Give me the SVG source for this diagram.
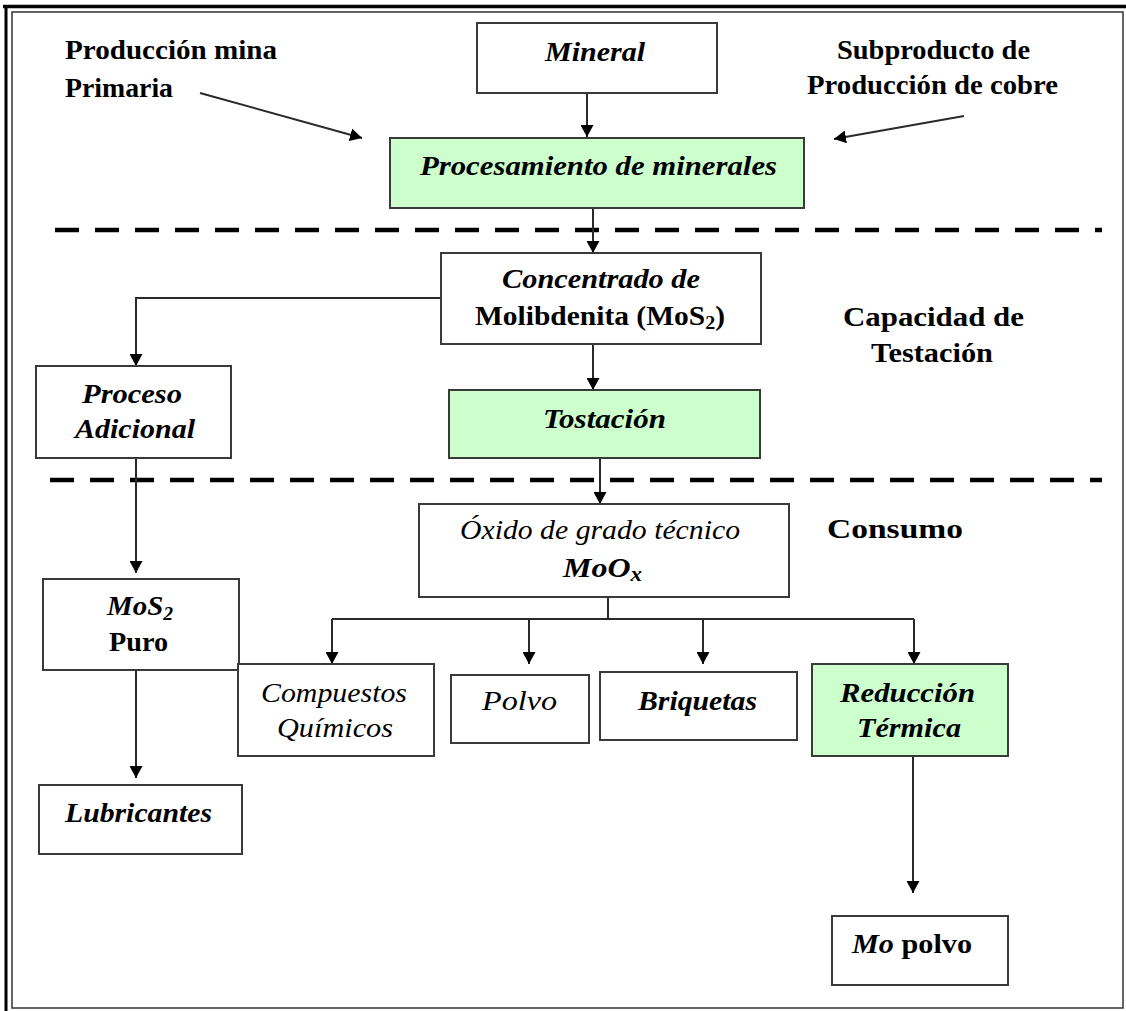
<svg xmlns="http://www.w3.org/2000/svg" width="1126" height="1011" viewBox="0 0 1126 1011">
<style>
text{font-family:"Liberation Serif","Times New Roman",serif;font-size:28px;fill:#000;font-weight:bold}
.i{font-style:italic}
.n{font-weight:normal}
.box{fill:#fff;stroke:#3a3a3a;stroke-width:2}
.g{fill:#ccffcc}
.c{fill:none;stroke:#2a2a2a;stroke-width:2}
.d{fill:none;stroke:#000;stroke-width:4.5;stroke-dasharray:24 16}
</style>
<defs>
<marker id="ah" markerUnits="userSpaceOnUse" markerWidth="13" markerHeight="13" refX="12" refY="6.5" orient="auto">
<path d="M0,0 L12,6.5 L0,13 z" fill="#000"/>
</marker>
</defs>
<rect width="1126" height="1011" fill="#fff"/>
<g id="frame">
<line x1="3" y1="6.5" x2="1126" y2="6.5" stroke="#000" stroke-width="3.5"/>
<line x1="6" y1="5" x2="6" y2="1011" stroke="#000" stroke-width="3"/>
<rect x="12" y="12" width="1111" height="996" fill="none" stroke="#333" stroke-width="1.5"/>
</g>
<g id="dividers">
<line class="d" x1="55" y1="230" x2="1102" y2="230"/>
<line class="d" x1="50" y1="480" x2="1102" y2="480"/>
</g>
<g id="connectors">
<path class="c" d="M587,93 V137" marker-end="url(#ah)"/>
<path class="c" d="M200,93 L362,138" marker-end="url(#ah)"/>
<path class="c" d="M964,116 L834,139" marker-end="url(#ah)"/>
<path class="c" d="M593,208 V253" marker-end="url(#ah)"/>
<path class="c" d="M441,298 H136 V366" marker-end="url(#ah)"/>
<path class="c" d="M593,344 V390" marker-end="url(#ah)"/>
<path class="c" d="M600,458 V504" marker-end="url(#ah)"/>
<path class="c" d="M136,458 V573" marker-end="url(#ah)"/>
<path class="c" d="M136,670 V778" marker-end="url(#ah)"/>
<path class="c" d="M608,597 V619 M332,619 H914"/>
<path class="c" d="M332,619 V664" marker-end="url(#ah)"/>
<path class="c" d="M529,619 V664" marker-end="url(#ah)"/>
<path class="c" d="M703,619 V664" marker-end="url(#ah)"/>
<path class="c" d="M914,619 V664" marker-end="url(#ah)"/>
<path class="c" d="M913,756 V893" marker-end="url(#ah)"/>
</g>
<g id="label-produccion-mina">
<text x="65" y="59" textLength="212" lengthAdjust="spacingAndGlyphs">Producción mina</text>
<text x="65" y="97" textLength="108" lengthAdjust="spacingAndGlyphs">Primaria</text>
</g>
<g id="label-subproducto">
<text x="837" y="59" textLength="193" lengthAdjust="spacingAndGlyphs">Subproducto de</text>
<text x="807" y="94" textLength="251" lengthAdjust="spacingAndGlyphs">Producción de cobre</text>
</g>
<g id="node-mineral">
<rect class="box" x="477" y="23" width="240" height="70"/>
<text class="i" x="545" y="61" textLength="100" lengthAdjust="spacingAndGlyphs">Mineral</text>
</g>
<g id="node-procesamiento">
<rect class="box g" x="390" y="138" width="414" height="70"/>
<text class="i" x="420" y="175" textLength="357" lengthAdjust="spacingAndGlyphs">Procesamiento de minerales</text>
</g>
<g id="node-concentrado">
<rect class="box" x="441" y="253" width="320" height="91"/>
<text class="i" x="502" y="288" textLength="198" lengthAdjust="spacingAndGlyphs">Concentrado de</text>
<text x="475" y="325" textLength="250" lengthAdjust="spacingAndGlyphs">Molibdenita (MoS<tspan font-size="19" dy="4">2</tspan><tspan dy="-4">)</tspan></text>
</g>
<g id="label-capacidad">
<text x="843" y="326" textLength="181" lengthAdjust="spacingAndGlyphs">Capacidad de</text>
<text x="871" y="362" textLength="122" lengthAdjust="spacingAndGlyphs">Testación</text>
</g>
<g id="node-proceso-adicional">
<rect class="box" x="36" y="366" width="195" height="92"/>
<text class="i" x="82" y="403" textLength="100" lengthAdjust="spacingAndGlyphs">Proceso</text>
<text class="i" x="75" y="438" textLength="120" lengthAdjust="spacingAndGlyphs">Adicional</text>
</g>
<g id="node-tostacion">
<rect class="box g" x="449" y="390" width="311" height="68"/>
<text class="i" x="543" y="428" textLength="123" lengthAdjust="spacingAndGlyphs">Tostación</text>
</g>
<g id="node-oxido">
<rect class="box" x="419" y="504" width="370" height="93"/>
<text class="i n" x="460" y="539" textLength="280" lengthAdjust="spacingAndGlyphs">Óxido de grado técnico</text>
<text class="i" x="563" y="577" textLength="79" lengthAdjust="spacingAndGlyphs">MoO<tspan font-size="20" dy="4">x</tspan></text>
</g>
<g id="label-consumo">
<text x="827" y="538" textLength="136" lengthAdjust="spacingAndGlyphs">Consumo</text>
</g>
<g id="node-mos2-puro">
<rect class="box" x="43" y="579" width="196" height="91"/>
<text class="i" x="107" y="615" textLength="66" lengthAdjust="spacingAndGlyphs">MoS<tspan font-size="19" dy="5">2</tspan></text>
<text x="109" y="651" textLength="59" lengthAdjust="spacingAndGlyphs">Puro</text>
</g>
<g id="node-lubricantes">
<rect class="box" x="39" y="785" width="203" height="69"/>
<text class="i" x="65" y="822" textLength="147" lengthAdjust="spacingAndGlyphs">Lubricantes</text>
</g>
<g id="node-compuestos">
<rect class="box" x="238" y="664" width="196" height="92"/>
<text class="i n" x="261" y="702" textLength="146" lengthAdjust="spacingAndGlyphs">Compuestos</text>
<text class="i n" x="277" y="737" textLength="116" lengthAdjust="spacingAndGlyphs">Químicos</text>
</g>
<g id="node-polvo">
<rect class="box" x="451" y="675" width="138" height="68"/>
<text class="i n" x="482" y="710" textLength="75" lengthAdjust="spacingAndGlyphs">Polvo</text>
</g>
<g id="node-briquetas">
<rect class="box" x="600" y="672" width="197" height="68"/>
<text class="i" x="638" y="710" textLength="119" lengthAdjust="spacingAndGlyphs">Briquetas</text>
</g>
<g id="node-reduccion">
<rect class="box g" x="812" y="664" width="196" height="92"/>
<text class="i" x="840" y="702" textLength="135" lengthAdjust="spacingAndGlyphs">Reducción</text>
<text class="i" x="857" y="737" textLength="104" lengthAdjust="spacingAndGlyphs">Térmica</text>
</g>
<g id="node-mo-polvo">
<rect class="box" x="832" y="916" width="176" height="69"/>
<text x="852" y="953" textLength="120" lengthAdjust="spacingAndGlyphs"><tspan class="i">Mo</tspan> polvo</text>
</g>
</svg>
